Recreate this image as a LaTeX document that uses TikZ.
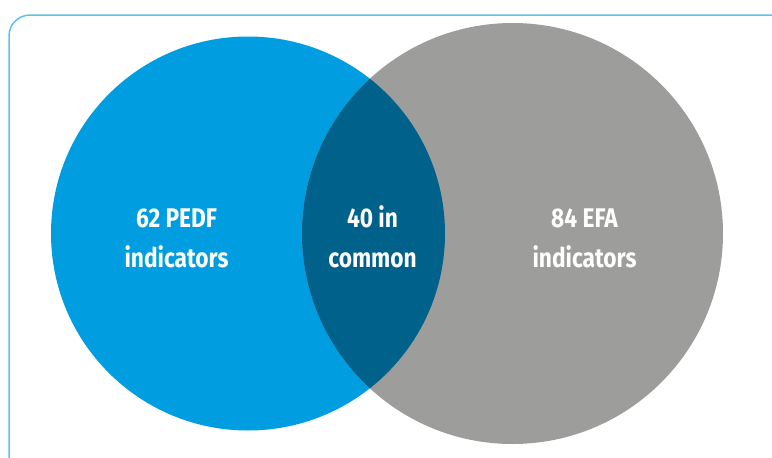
\documentclass[tikz,border=0pt]{standalone}
\usepackage{fontspec}
\newfontfamily\labelfont[FakeStretch=0.84]{Fira Sans}
\definecolor{framecol}{RGB}{94,195,236}
\definecolor{pedfblue}{RGB}{0,158,224}
\definecolor{commonblue}{RGB}{0,97,138}
\definecolor{efagray}{RGB}{157,157,156}
\tikzset{
  venn/.style={circle, inner sep=0pt, draw=none},
  vlabel/.style={text=white, align=center, font=\labelfont\bfseries\fontsize{27}{40}\selectfont, anchor=base, inner sep=0pt}
}
\begin{document}
\begin{tikzpicture}[x=1pt,y=-1pt]
\useasboundingbox (0,0) rectangle (772,458);
\draw[framecol, line width=1.5pt, rounded corners=21pt] (9,470) -- (9,15) -- (785,15);
\node[venn, fill=pedfblue, minimum size=394pt] (L) at (248,233.5) {};
\node[venn, fill=efagray, minimum size=421pt] (R) at (512.5,233.5) {};
\begin{scope}
  \clip (248,233.5) circle (197);
  \fill[commonblue] (512.5,233.5) circle (210.5);
\end{scope}
\node[vlabel] (tL) at (176.5,267) {62 PEDF\\indicators};
\node[vlabel] (tC) at (372.5,267) {40 in\\common};
\node[vlabel] (tR) at (584.5,267) {84 EFA\\indicators};
\end{tikzpicture}
\end{document}
